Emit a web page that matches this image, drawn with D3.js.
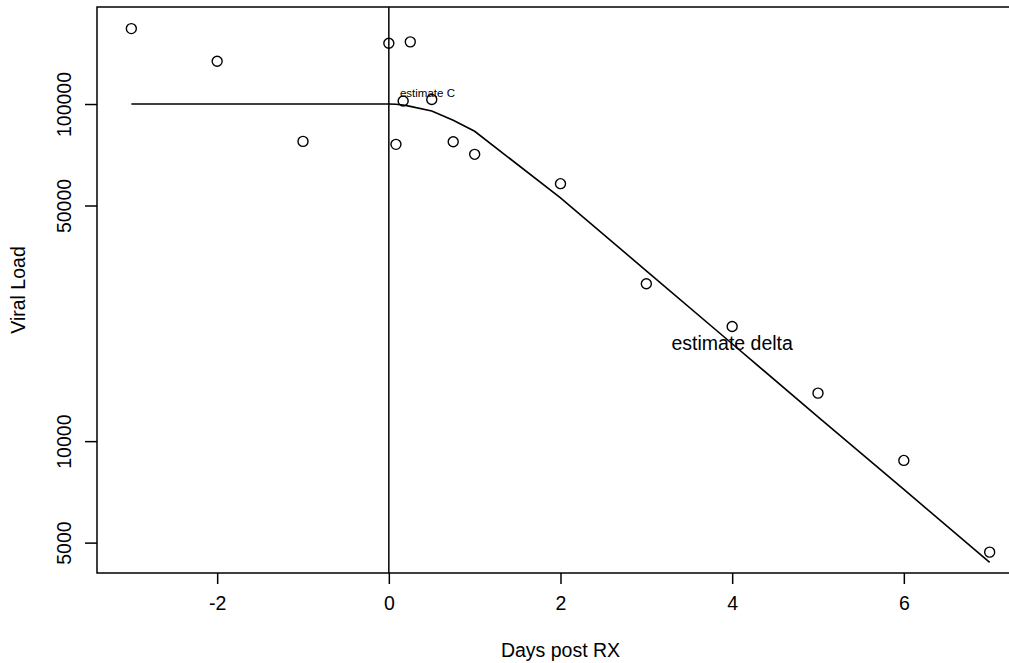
<!DOCTYPE html>
<html>
<head>
<meta charset="utf-8">
<script src="https://cdn.jsdelivr.net/npm/d3@7"></script>
<style>
  html, body { margin: 0; padding: 0; background: #fff; }
  svg text { font-family: "Liberation Sans", Arial, Helvetica, sans-serif; fill: #000; }
</style>
</head>
<body>
<div id="chart"></div>
<script>
// observed viral load (circles)
const obsDays = [-3, -2, -1, 0, 0.083, 0.167, 0.25, 0.5, 0.75, 1, 2, 3, 4, 5, 6, 7];
const obsLoad = [167400, 133900, 77480, 151400, 75930, 102100, 152900, 103100, 77320, 70920, 58040, 29310, 21890, 13880, 8766, 4685];

// fitted model curve
const fitDays = [-3, -2, -1, 0, 0.083, 0.167, 0.25, 0.5, 0.75, 1, 2, 3, 4, 5, 6, 7];
const fitLoad = [100000, 100000, 100000, 100000, 99800, 99300, 98400, 95300, 89500, 83000, 52700, 32000, 19450, 11800, 7190, 4370];

const xTicks = [-2, 0, 2, 4, 6];
const yTicks = [5000, 10000, 50000, 100000];

const notes = [
  { x: 0.45, y: 108000, text: 'estimate C', size: 11.5 },
  { x: 4, y: 19500, text: 'estimate delta', size: 19.5 }
];

(function () {
  'use strict';
  const W = 1009, H = 663;
  const FS = '19.5px';
  const margin = { top: 7, right: -15, bottom: 90, left: 97 };
  const innerW = W - margin.left - margin.right;
  const innerH = H - margin.top - margin.bottom;

  const svg = d3.select('#chart').append('svg').attr('width', W).attr('height', H);
  const g = svg.append('g').attr('transform', `translate(${margin.left},${margin.top})`);

  const x = d3.scaleLinear().domain([-3.4, 7.4]).range([0, innerW]);
  const y = d3.scaleLog().domain([4063, 194000]).range([innerH, 0]);

  // plot box (right edge falls outside the window, as in the original)
  g.append('rect').attr('width', innerW).attr('height', innerH)
    .attr('fill', 'none').attr('stroke', '#000').attr('stroke-width', 1.5);

  // axes
  const xAxis = g.append('g').attr('transform', `translate(0,${innerH})`)
    .call(d3.axisBottom(x).tickValues(xTicks).tickSize(11).tickPadding(8).tickFormat(d => String(d)));
  const yAxis = g.append('g')
    .call(d3.axisLeft(y).tickValues(yTicks).tickSize(12).tickFormat(d => String(d)));
  [xAxis, yAxis].forEach(a => {
    a.select('.domain').remove();
    a.selectAll('line').attr('stroke', '#000').attr('stroke-width', 1.5);
    a.selectAll('text').style('font-size', FS)
      .style('font-family', '"Liberation Sans", Arial, sans-serif').attr('fill', '#000');
  });
  xAxis.selectAll('text').attr('dy', '0.9em');
  // R style: y labels run parallel to the axis
  yAxis.selectAll('text')
    .attr('x', null).attr('dy', null).attr('y', 0)
    .attr('text-anchor', 'middle')
    .attr('transform', 'translate(-26,0) rotate(-90)');

  // vertical reference line at day 0
  g.append('line')
    .attr('x1', x(0)).attr('x2', x(0)).attr('y1', 0).attr('y2', innerH)
    .attr('stroke', '#000').attr('stroke-width', 1.5);

  // fitted curve
  const fit = fitDays.map((d, i) => ({ d, v: fitLoad[i] }));
  const line = d3.line().x(p => x(p.d)).y(p => y(p.v));
  g.append('path').datum(fit).attr('fill', 'none')
    .attr('stroke', '#000').attr('stroke-width', 1.6).attr('d', line);

  // observations
  const obs = obsDays.map((d, i) => ({ d, v: obsLoad[i] }));
  g.selectAll('.pt').data(obs).enter().append('circle')
    .attr('cx', p => x(p.d)).attr('cy', p => y(p.v)).attr('r', 5)
    .attr('fill', 'none').attr('stroke', '#000').attr('stroke-width', 1.4);

  // annotations
  g.selectAll('.note').data(notes).enter().append('text')
    .attr('x', n => x(n.x)).attr('y', n => y(n.y))
    .attr('text-anchor', 'middle').attr('dominant-baseline', 'central')
    .style('font-size', n => n.size + 'px')
    .text(n => n.text);

  // axis titles
  svg.append('text').attr('x', margin.left + x(2)).attr('y', 657)
    .attr('text-anchor', 'middle').style('font-size', FS).text('Days post RX');
  svg.append('text').attr('transform', `translate(25,${margin.top + innerH / 2}) rotate(-90)`)
    .attr('text-anchor', 'middle').style('font-size', FS).text('Viral Load');
})();
</script>
</body>
</html>
